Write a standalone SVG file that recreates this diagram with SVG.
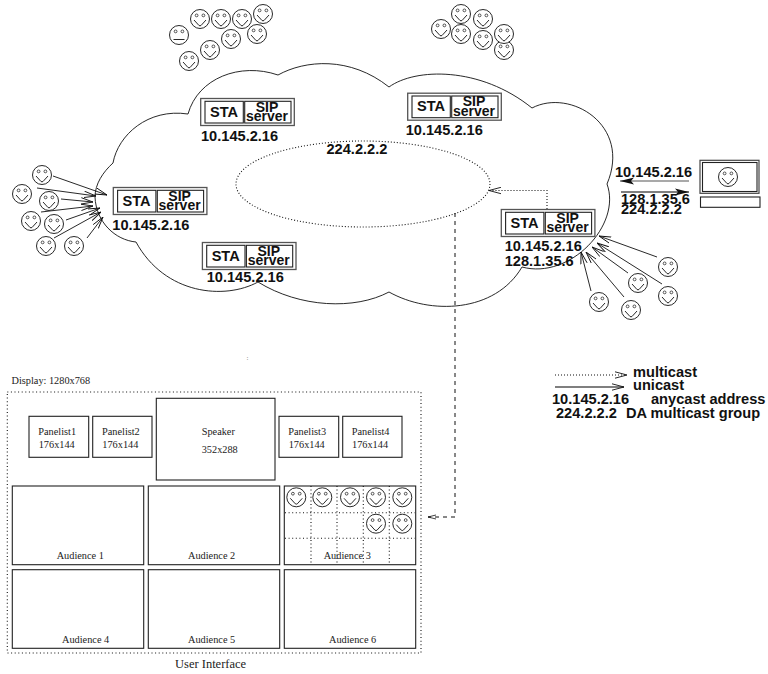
<svg xmlns="http://www.w3.org/2000/svg" xmlns:xlink="http://www.w3.org/1999/xlink" width="768" height="674" viewBox="0 0 768 674">
<style>
text{font-family:"Liberation Sans",Arial,sans-serif;fill:#111}
.b{font-weight:bold;font-size:14.6px}
.s{font-weight:bold;font-size:14px}
.t{font-family:"Liberation Serif","Times New Roman",serif;font-size:10.3px;fill:#222}
.f{fill:#fff;stroke:#111;stroke-width:1}
.l{fill:none;stroke:#111;stroke-width:.9}
.d{fill:none;stroke:#111;stroke-width:1.1;stroke-dasharray:1 2}
.o{fill:none;stroke:#666;stroke-width:1.4}
.n{fill:none;stroke:#222;stroke-width:1.1}
.u{fill:none;stroke:#222;stroke-width:1.1}
.g{fill:none;stroke:#111;stroke-width:1.1;stroke-dasharray:1 2.6}
</style>
<defs>
<g id="sm"><circle r="9.5" fill="#fff" stroke="#111" stroke-width=".9"/><circle cx="-3.4" cy="-3.6" r="1.4" fill="none" stroke="#111" stroke-width=".7"/><circle cx="3.4" cy="-3.6" r="1.4" fill="none" stroke="#111" stroke-width=".7"/><path d="M-6 1L-1 6.5Q0 7.2 1 6.5L6 1" fill="none" stroke="#111" stroke-width=".9"/></g>
<g id="nf"><circle r="9.5" fill="#fff" stroke="#111" stroke-width=".9"/><circle cx="-3.4" cy="-3.6" r="1.4" fill="none" stroke="#111" stroke-width=".7"/><circle cx="3.4" cy="-3.6" r="1.4" fill="none" stroke="#111" stroke-width=".7"/><path d="M-5.5 4.5H5.5" fill="none" stroke="#111" stroke-width=".9"/></g>
<g id="srv">
<rect x="200.7" y="98.5" width="93.6" height="27" fill="none" stroke="#555" stroke-width="1.3"/>
<rect x="205" y="101.3" width="38.3" height="21.7" class="n"/>
<rect x="244.7" y="101.3" width="46.3" height="21.7" class="n"/>
<text class="b" x="224" y="116.5" text-anchor="middle">STA</text>
<text class="s" x="267" y="111.5" text-anchor="middle">SIP</text>
<text class="s" x="267" y="121" text-anchor="middle">server</text>
</g>
<marker id="op" viewBox="0 0 12 8" refX="12" refY="4" markerWidth="12" markerHeight="8" markerUnits="userSpaceOnUse" orient="auto"><path d="M0 0.8L12 4L0 7.2" fill="none" stroke="#111" stroke-width=".9"/></marker>
<marker id="fl" viewBox="0 0 14 8" refX="14" refY="4" markerWidth="14" markerHeight="8" markerUnits="userSpaceOnUse" orient="auto"><path d="M0 0.5L14 4L0 7.5L3 4Z" fill="#111"/></marker>
<marker id="sm2" viewBox="0 0 10 6" refX="10" refY="3" markerWidth="8" markerHeight="6" markerUnits="userSpaceOnUse" orient="auto"><path d="M0 0.5L10 3L0 5.5" fill="none" stroke="#111" stroke-width="1"/></marker>
</defs>
<g id="cloud">
<path class="l" d="M188 114C198 78 240 62 278 75C305 60 350 56 389 87C415 68 480 66 532 108C570 88 632 125 607 184C622 225 570 280 522 267C495 313 430 315 389 292C355 310 300 308 258 282C225 300 165 295 136 242C115 240 96 222 95 197C95 184 103 172 113 163C118 135 148 108 188 114Z"/>
<ellipse cx="363" cy="184" rx="127" ry="43" class="d"/>
<text class="b" x="326.5" y="154">224.2.2.2</text>
</g>
<g id="connectors">
<path class="l" d="M53 176L107 195" marker-end="url(#op)"/>
<path class="l" d="M37 188L96 196" marker-end="url(#op)"/>
<path class="l" d="M61 199L93 202" marker-end="url(#op)"/>
<path class="l" d="M41 212L93 206" marker-end="url(#op)"/>
<path class="l" d="M66 220L100 208" marker-end="url(#op)"/>
<path class="l" d="M54 238L101 212" marker-end="url(#op)"/>
<path class="l" d="M87 238L103 217" marker-end="url(#op)"/>
<path class="l" d="M657 257L599 236" marker-end="url(#op)"/>
<path class="l" d="M662 284L597 243" marker-end="url(#op)"/>
<path class="l" d="M628 273L592 247" marker-end="url(#op)"/>
<path class="l" d="M624 297L586 252" marker-end="url(#op)"/>
<path class="l" d="M591 291L581 252" marker-end="url(#op)"/>
<path fill="none" stroke="#555" stroke-width="1.2" d="M689 181H620" marker-end="url(#fl)"/>
<path fill="none" stroke="#555" stroke-width="1.6" d="M621 192H689" marker-end="url(#fl)"/>
<path class="d" d="M547 209V190.5H489" marker-end="url(#op)"/>
<path fill="none" stroke="#111" stroke-width="1" stroke-dasharray="4 4" d="M455 213V517H428" marker-end="url(#sm2)"/>
<path class="d" d="M555 375H627" marker-end="url(#op)"/>
<path fill="none" stroke="#555" stroke-width="1.5" d="M555 387H624" marker-end="url(#op)"/>
</g>
<g id="group-top-left">
<use href="#sm" x="200" y="19"/><use href="#sm" x="221" y="19"/><use href="#sm" x="242" y="19"/><use href="#sm" x="263" y="14"/><use href="#nf" x="179" y="35"/><use href="#sm" x="257" y="34"/><use href="#sm" x="231" y="39"/><use href="#sm" x="210" y="50"/><use href="#sm" x="189" y="61"/>
</g>
<g id="group-top-right">
<use href="#sm" x="461" y="14"/><use href="#sm" x="483" y="19"/><use href="#sm" x="441" y="29"/><use href="#sm" x="461" y="34"/><use href="#sm" x="483" y="40"/><use href="#sm" x="504" y="50"/><use href="#sm" x="504" y="34"/>
</g>
<g id="group-left">
<use href="#sm" x="42" y="175"/><use href="#sm" x="22" y="194"/><use href="#sm" x="49" y="201"/><use href="#sm" x="31" y="221"/><use href="#sm" x="54" y="224"/><use href="#sm" x="46" y="246"/><use href="#sm" x="74" y="246"/>
</g>
<g id="group-right">
<use href="#sm" x="668" y="267"/><use href="#sm" x="638" y="283"/><use href="#sm" x="668" y="296"/><use href="#sm" x="599" y="302"/><use href="#sm" x="631" y="310"/>
</g>
<g id="server-top"><use href="#srv"/><text class="b" x="201" y="140.7">10.145.2.16</text></g>
<g id="server-top-right"><use href="#srv" x="207" y="-5.3"/><text class="b" x="405.7" y="135">10.145.2.16</text></g>
<g id="server-left"><use href="#srv" x="-87.4" y="89"/><text class="b" x="112.3" y="230">10.145.2.16</text></g>
<g id="server-bottom"><use href="#srv" x="1.7" y="144"/><text class="b" x="206.7" y="281.7">10.145.2.16</text></g>
<g id="server-right"><use href="#srv" x="300.6" y="111"/><text class="b" x="504.7" y="250.7">10.145.2.16</text><text class="b" x="504.7" y="266">128.1.35.6</text></g>
<g id="computer">
<rect x="700" y="160.3" width="59" height="33" fill="none" stroke="#444" stroke-width="1.2"/>
<rect x="702.5" y="162.5" width="54.5" height="29" class="n"/>
<use href="#sm" x="728" y="177"/>
<rect x="700.5" y="197" width="59.5" height="10.3" class="n"/>
</g>
<g id="computer-labels">
<text class="b" x="615" y="176.7">10.145.2.16</text>
<text class="b" x="621" y="204">128.1.35.6</text>
<text class="b" x="621" y="214">224.2.2.2</text>
</g>
<g id="legend">
<text class="b" x="633" y="377">multicast</text>
<text class="b" x="633" y="390">unicast</text>
<text class="b" x="552" y="404">10.145.2.16</text>
<text class="b" x="651" y="404">anycast address</text>
<text class="b" x="556" y="418">224.2.2.2</text>
<text class="b" x="626" y="418">DA multicast group</text>
</g>
<text x="246.5" y="360" style="font-family:'Liberation Serif',serif;font-size:7px;fill:#777">:</text>
<g id="user-interface">
<text class="t" x="11.5" y="384">Display: 1280x768</text>
<rect x="7.3" y="392" width="413.7" height="261" class="g"/>
<g id="panelist1"><rect x="29" y="416.3" width="59.7" height="41" class="u"/><text class="t" x="38.3" y="434.7">Panelist1</text><text class="t" x="38.7" y="447.7">176x144</text></g>
<g id="panelist2"><rect x="92.7" y="416.3" width="59.3" height="41" class="u"/><text class="t" x="102" y="434.7">Panelist2</text><text class="t" x="102.3" y="447.7">176x144</text></g>
<g id="speaker"><rect x="156.3" y="398.3" width="118.7" height="81.7" class="u"/><text class="t" x="201.7" y="434.7">Speaker</text><text class="t" x="201.7" y="452.7">352x288</text></g>
<g id="panelist3"><rect x="279" y="416.3" width="59.7" height="41" class="u"/><text class="t" x="288.3" y="434.7">Panelist3</text><text class="t" x="288.7" y="447.7">176x144</text></g>
<g id="panelist4"><rect x="342.7" y="416.3" width="59.3" height="41" class="u"/><text class="t" x="351.7" y="434.7">Panelist4</text><text class="t" x="352" y="447.7">176x144</text></g>
<g id="audience1"><rect x="12.3" y="486" width="131.4" height="78.7" class="u"/><text class="t" x="56.7" y="558.7">Audience 1</text></g>
<g id="audience2"><rect x="148.3" y="486" width="131.4" height="78.7" class="u"/><text class="t" x="188" y="558.7">Audience 2</text></g>
<g id="audience3"><rect x="284.3" y="486" width="131.4" height="78.7" class="u"/>
<path class="g" d="M311 486V565M337 486V565M363.3 486V565M389.3 486V565M285 512.7H415M285 538.3H415"/>
<text class="t" x="323.7" y="558.7">Audience 3</text>
<use href="#sm" x="296.3" y="497.3"/><use href="#sm" x="322.3" y="497.3"/><use href="#sm" x="350" y="497.3"/><use href="#sm" x="376" y="497.3"/><use href="#sm" x="402.3" y="497.3"/><use href="#sm" x="376" y="523.7"/><use href="#sm" x="402.3" y="523.7"/>
</g>
<g id="audience4"><rect x="12.3" y="569.7" width="131.4" height="78.6" class="u"/><text class="t" x="62" y="642.7">Audience 4</text></g>
<g id="audience5"><rect x="148.3" y="569.7" width="131.4" height="78.6" class="u"/><text class="t" x="188" y="642.7">Audience 5</text></g>
<g id="audience6"><rect x="284.3" y="569.7" width="131.4" height="78.6" class="u"/><text class="t" x="329" y="642.7">Audience 6</text></g>
<text class="t" x="175" y="668" style="font-size:12.5px">User Interface</text>
</g>
</svg>
